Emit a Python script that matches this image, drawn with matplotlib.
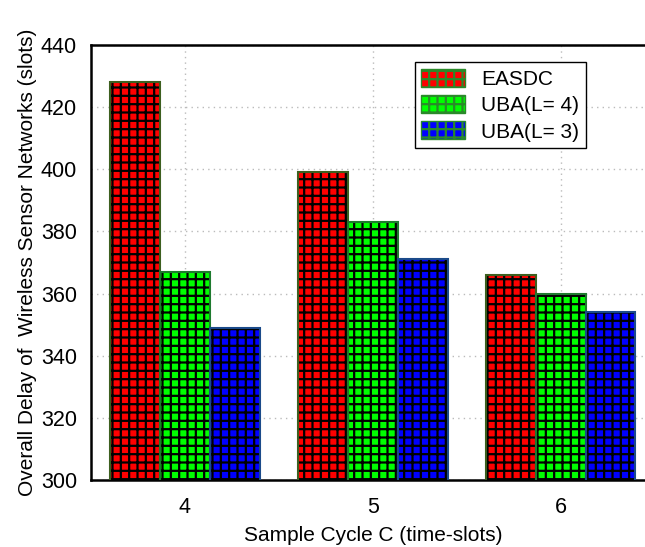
import matplotlib.pyplot as plt
import numpy as np

plt.rcParams['font.family'] = ['Liberation Sans', 'DejaVu Sans']
plt.rcParams['hatch.linewidth'] = 1.6
plt.rcParams['hatch.color'] = 'black'

# Sample cycle C (time-slots)
cykle = [4, 5, 6]
easdc = [428, 399, 366]
uba_l4 = [367, 383, 360]
uba_l3 = [349, 371, 354]

serie = [
    ("EASDC", easdc, "#ff0000", "#3d5f1f"),
    ("UBA(L= 4)", uba_l4, "#00ff00", "#1e7a2e"),
    ("UBA(L= 3)", uba_l3, "#0000ff", "#1a4a8a"),
]

fig = plt.figure(figsize=(6.45, 5.47), dpi=100)
ax = fig.add_axes([0.141, 0.1225, 0.874, 0.7952])

x = np.array(cykle, dtype=float)
szer = 0.265
uchwyty = []
for i, (nazwa, wart, kolor, ramka) in enumerate(serie):
    pos = x + (i - 1) * szer
    # wypelnienie z czarna kratka
    b = ax.bar(pos, wart, width=szer, color=kolor, edgecolor='black',
               hatch='++', linewidth=0, zorder=2, label=nazwa)
    # obramowanie slupka
    ax.bar(pos, wart, width=szer, fill=False, edgecolor=ramka,
           linewidth=1.5, zorder=3)
    uchwyty.append(b)

ax.set_xlim(3.5, 6.5)
ax.set_ylim(300, 440)
ax.set_xticks(cykle)
ax.set_yticks(np.arange(300, 441, 20))
ax.tick_params(axis='both', length=0, labelsize=15.5)
ax.tick_params(axis='y', pad=10)
ax.tick_params(axis='x', pad=12)

ax.grid(True, linestyle=(0, (1, 3)), color='#bbbbbb', linewidth=1.0, zorder=0)
ax.set_axisbelow(True)

for s in ax.spines.values():
    s.set_linewidth(1.8)
    s.set_color('black')

ax.set_xlabel("Sample Cycle C (time-slots)", fontsize=15, labelpad=6)
ax.set_ylabel("Overall Delay of  Wireless Sensor Networks (slots)", fontsize=15, labelpad=3)

leg = ax.legend(handles=uchwyty, loc='upper left', bbox_to_anchor=(0.643, 0.886),
                bbox_transform=fig.transFigure, fontsize=15, frameon=True,
                fancybox=False, edgecolor='black', framealpha=1,
                handlelength=2.1, handleheight=0.95, labelspacing=0.3,
                handletextpad=0.8, borderpad=0.3, borderaxespad=0)
leg.get_frame().set_linewidth(1.0)
for h in leg.legend_handles:
    h.set_edgecolor('#2a8a2a')
    h.set_linewidth(1.0)

fig.savefig("out.png", dpi=100)
